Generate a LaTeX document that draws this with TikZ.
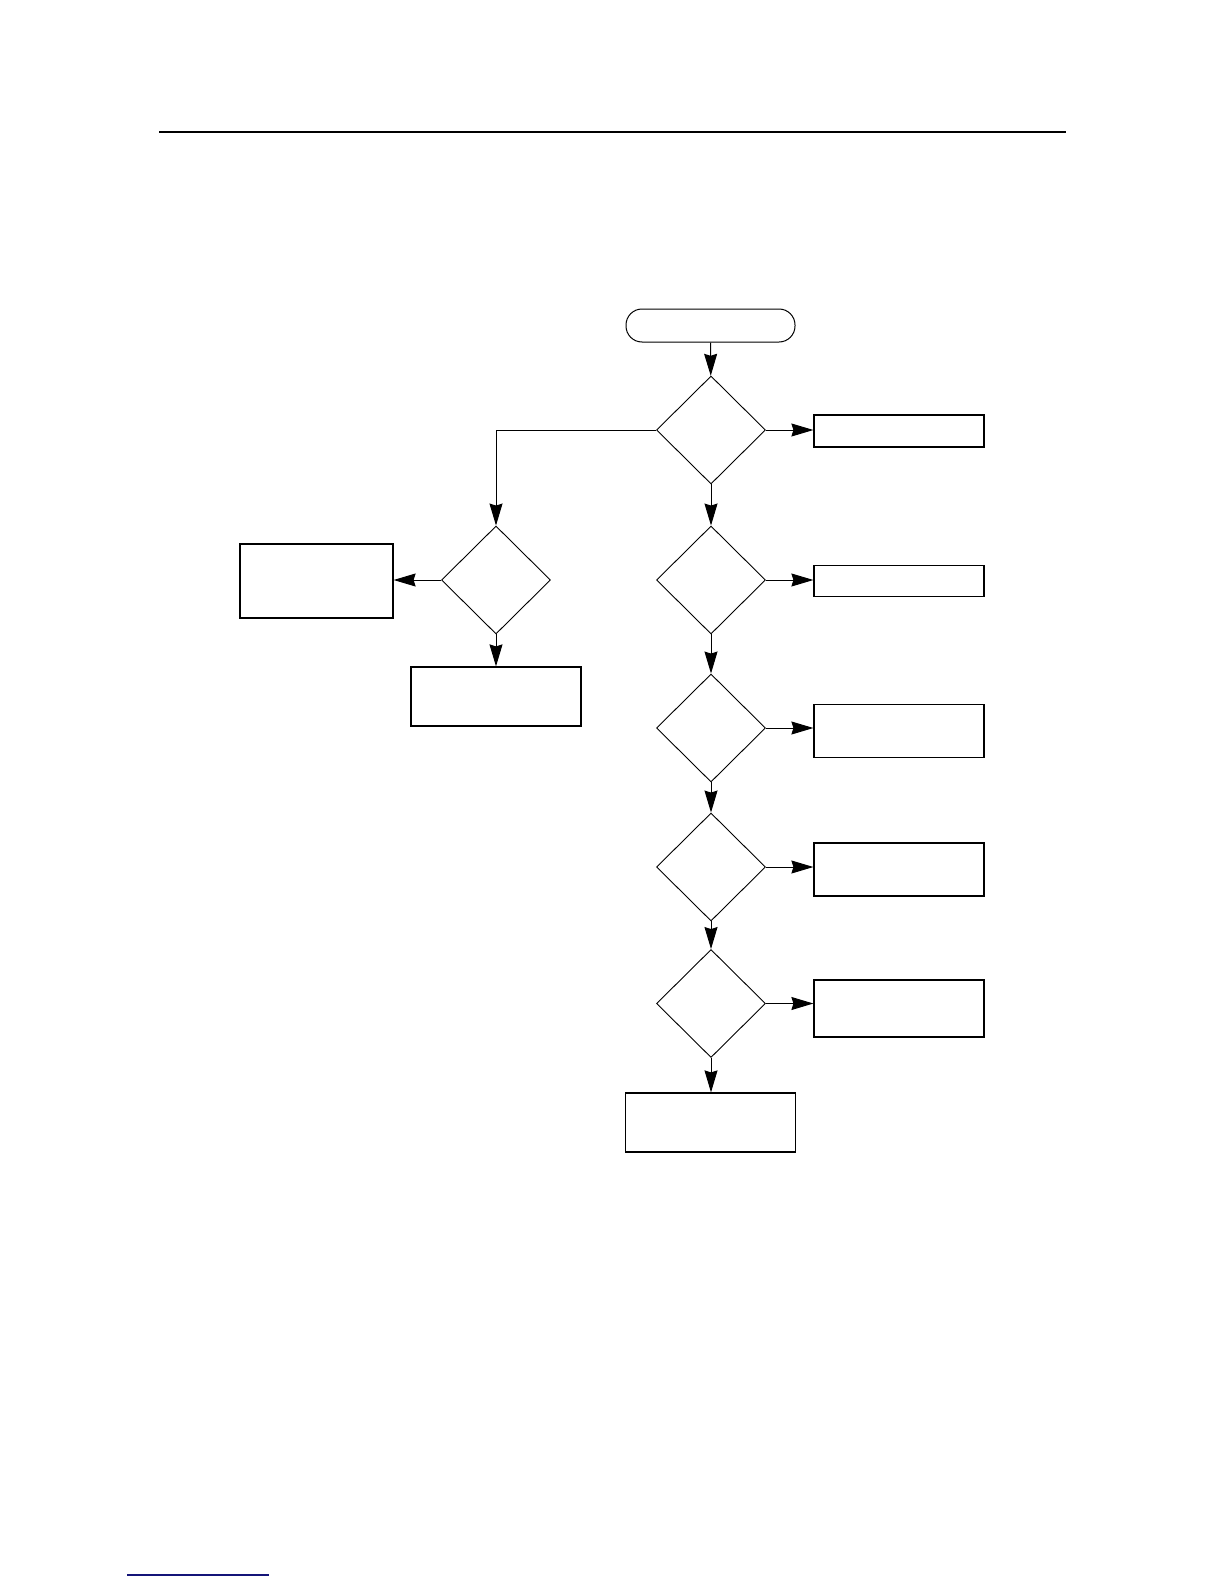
\documentclass[tikz,border=0pt]{standalone}
\usetikzlibrary{shapes.geometric,arrows.meta}
\begin{document}
\begin{tikzpicture}[x=0.5pt,y=-0.5pt,
  box/.style={draw,rectangle,inner sep=0pt,line width=0.6pt},
  term/.style={draw,rectangle,rounded corners=8pt,inner sep=0pt,line width=0.5pt,minimum width=84.5pt,minimum height=16.5pt},
  dec/.style={draw,diamond,inner sep=0pt,line width=0.45pt,minimum width=54.5pt,minimum height=54pt},
  conn/.style={line width=0.5pt,-{Stealth[length=11pt,width=6.5pt,inset=1pt]}}]
\useasboundingbox (0,0) rectangle (1224,1584);
\coordinate (hl) at (159,132);
\coordinate (hr) at (1066,132);
\draw[line width=1pt] (hl) -- (hr);
\coordinate (ul) at (127,1575);
\coordinate (ur) at (269,1575);
\draw[line width=1pt,color={rgb,255:red,20;green,20;blue,120}] (ul) -- (ur);

\node[term] (start) at (710.5,325.5) {};
\node[dec] (d1) at (711,430) {};
\node[dec] (d2) at (496,580) {};
\node[dec] (d3) at (711,580) {};
\node[dec] (d4) at (711,728) {};
\node[dec] (d5) at (711,867) {};
\node[dec] (d6) at (711,1003.5) {};

\node[box,minimum width=85pt,minimum height=16pt] (r1) at (899,431) {};
\node[box,minimum width=85pt,minimum height=15.75pt] (r3) at (899,581) {};
\node[box,minimum width=85pt,minimum height=26.75pt] (r4) at (899,731) {};
\node[box,minimum width=85pt,minimum height=26.5pt] (r5) at (899,869.5) {};
\node[box,minimum width=85pt,minimum height=28.5pt] (r6) at (899,1008.5) {};
\node[box,minimum width=76.5pt,minimum height=37pt] (l1) at (316.5,581) {};
\node[box,minimum width=85pt,minimum height=29.5pt] (l2) at (496,696.5) {};
\node[box,minimum width=85pt,minimum height=29.5pt] (b) at (710.5,1122.5) {};

\draw[conn] (start) -- (d1);
\draw[conn] (d1) -- (d3);
\draw[conn] (d3) -- (d4);
\draw[conn] (d4) -- (d5);
\draw[conn] (d5) -- (d6);
\draw[conn] (d6.south) -- (d6.south |- b.north);
\draw[conn] (d1.west) -| (d2.north);
\draw[conn] (d2.west) -- (d2.west -| l1.east);
\draw[conn] (d2.south) -- (d2.south |- l2.north);
\draw[conn] (d1.east) -- (d1.east -| r1.west);
\draw[conn] (d3.east) -- (d3.east -| r3.west);
\draw[conn] (d4.east) -- (d4.east -| r4.west);
\draw[conn] (d5.east) -- (d5.east -| r5.west);
\draw[conn] (d6.east) -- (d6.east -| r6.west);
\end{tikzpicture}
\end{document}
